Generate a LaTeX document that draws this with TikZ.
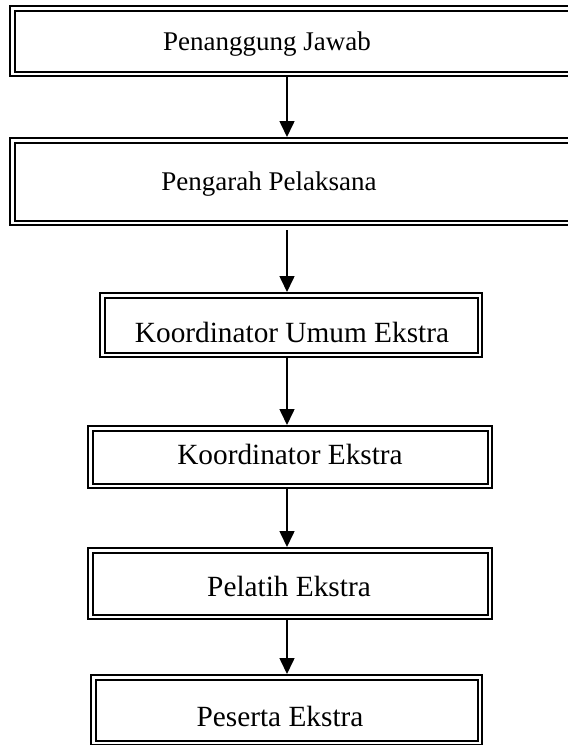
\documentclass[tikz,border=0pt]{standalone}
\usepackage{fontspec}
\setmainfont{Liberation Serif}
\usetikzlibrary{arrows.meta}
\begin{document}
\begin{tikzpicture}[x=1pt,y=1pt,
  dbox/.style={draw=black, line width=2pt, double=white, double distance=2.5pt,
    rectangle, inner sep=0pt, outer sep=3.25pt, minimum width=#1},
  lbl/.style={anchor=base, inner sep=0pt, font=\fontsize{27}{32}\selectfont},
  lblb/.style={anchor=base, inner sep=0pt, font=\fontsize{29.3}{34}\selectfont},
  conn/.style={line width=1.6pt, -{Triangle[width=15pt,length=16pt]}}]
\useasboundingbox (0,0) rectangle (568,-745);
\clip (0,0) rectangle (568,-745);
% boxes
\node[dbox=594.5pt, minimum height=65.5pt] (b1) at (309.5,-41) {};
\node[dbox=594.5pt, minimum height=82.5pt] (b2) at (309.5,-181.5) {};
\node[dbox=377.5pt, minimum height=59.5pt] (b3) at (291,-325) {};
\node[dbox=399.5pt, minimum height=57.5pt] (b4) at (290,-457) {};
\node[dbox=399.5pt, minimum height=66.5pt] (b5) at (290,-583.5) {};
\node[dbox=386.5pt, minimum height=65.5pt] (b6) at (286.5,-710) {};
% labels
\node[lbl] (t1) at (267,-50) {Penanggung Jawab};
\node[lbl] (t2) at (269,-190) {Pengarah Pelaksana};
\node[lblb] (t3) at (292,-342) {Koordinator Umum Ekstra};
\node[lblb] (t4) at (290,-464) {Koordinator Ekstra};
\node[lblb] (t5) at (289,-596) {Pelatih Ekstra};
\node[lblb] (t6) at (280,-726) {Peserta Ekstra};
% connectors
\coordinate (ax) at (287,0);
\draw[conn] (b1.south -| ax) -- (b2.north -| ax);
\draw[conn, shorten <=4pt] (b2.south -| ax) -- (b3.north -| ax);
\draw[conn] (b3.south -| ax) -- (b4.north -| ax);
\draw[conn] (b4.south -| ax) -- (b5.north -| ax);
\draw[conn] (b5.south -| ax) -- (b6.north -| ax);
\end{tikzpicture}
\end{document}
